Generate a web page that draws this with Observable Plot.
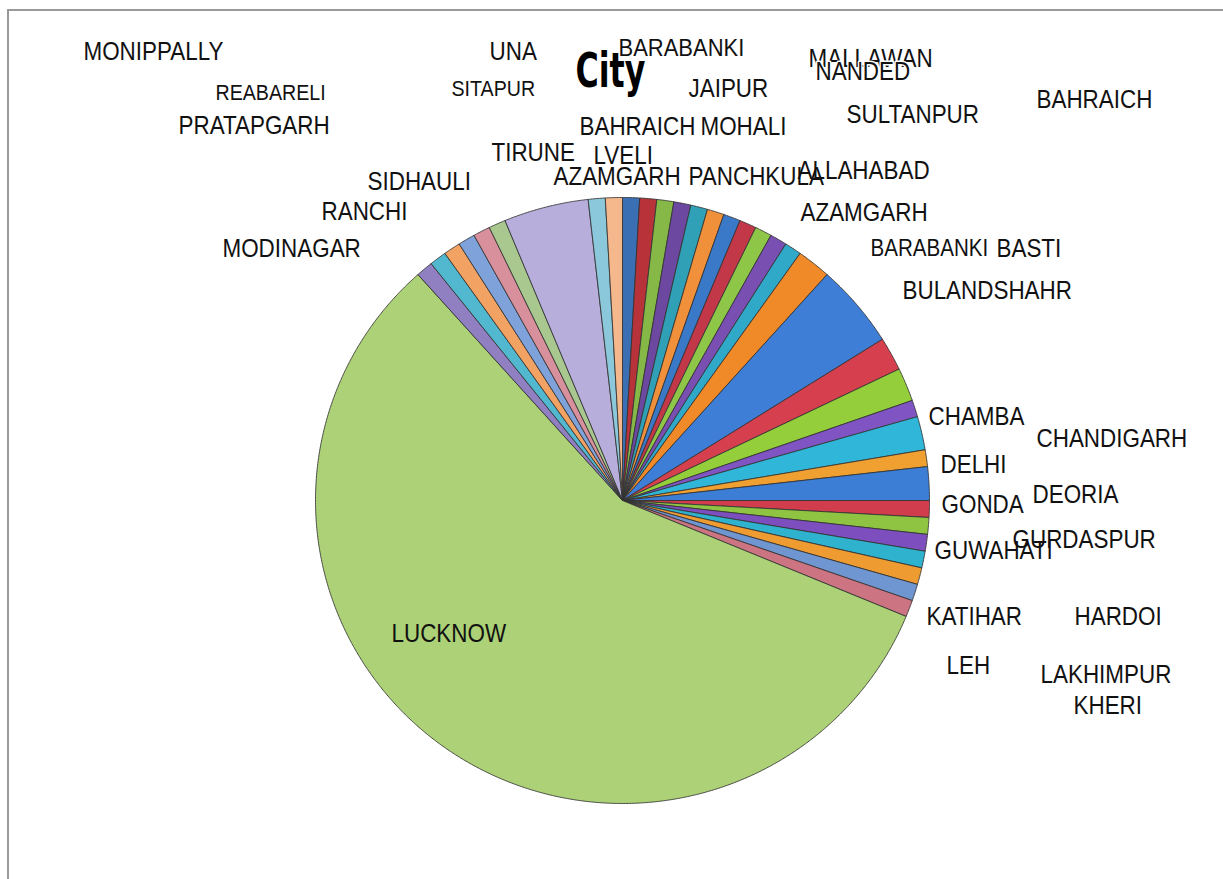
<!DOCTYPE html>
<html>
<head>
<meta charset="utf-8">
<script src="https://cdn.jsdelivr.net/npm/d3@7"></script>
<script src="https://cdn.jsdelivr.net/npm/@observablehq/plot@0.6"></script>
<style>
  html, body { margin: 0; padding: 0; background: #fff; }
  #wrap { position: relative; width: 1223px; height: 879px; overflow: hidden; }
  #frame { position: absolute; left: 7px; top: 9px; right: -10px; bottom: -10px;
           border-top: 2px solid #9a9a9a; border-left: 2px solid #9a9a9a; }
  #chart { position: absolute; left: 0; top: 0; }
</style>
</head>
<body>
<div id="wrap"><div id="frame"></div><div id="chart"></div></div>
<script>
// ---- data (clockwise from 12 o'clock) ----
const cities = [
  "BARABANKI","JAIPUR","MALLAWAN","NANDED","SULTANPUR","BAHRAICH",
  "BAHRAICH","MOHALI","AZAMGARH","PANCHKULA","ALLAHABAD","AZAMGARH",
  "BARABANKI","BASTI","BULANDSHAHR","CHAMBA","CHANDIGARH","DELHI",
  "DEORIA","GONDA","GURDASPUR","GUWAHATI","HARDOI","KATIHAR",
  "LAKHIMPUR KHERI","LEH","LUCKNOW","MODINAGAR","MONIPPALLY","PRATAPGARH",
  "RANCHI","REABARELI","SIDHAULI","SITAPUR","TIRUNELVELI","UNA"
];
const counts = [
  1,1,1,1,1,1,
  1,1,1,1,1,2,
  5,2,2,1,2,1,
  2,1,1,1,1,1,
  1,1,64,1,1,1,
  1,1,1,5,1,1
];
const title = "City";

// ---- styles / layout (kept apart from the data) ----
const palette = [
  "#3A6FB3","#B8323A","#86B848","#6D48A0","#2FA0B5","#F0903A",
  "#3A78C8","#C23848","#8EC648","#7A4FB2","#30A8C8","#F08A28",
  "#3E7ED6","#D6404E","#94CE3A","#8154C4","#2FB6D8","#F0A030",
  "#3C7DD6","#D23D4E","#8FC442","#7D4EBE","#2EB2CE","#EE9C32",
  "#7096D2","#CC7482","#ACD176","#9080C2","#52B8D0","#F2A262",
  "#80A2DA","#D8909C","#A8C890","#B8AEDC","#8CC8DC","#F4B88C"
];
const W = 1223, H = 879;
const pieGeom = {cx: 622, cy: 500, rx: 307, ry: 303};
// label placement: city index, optional substring range, left x, middle y, font size
const labelLayout = [
  {i: 0,  x: 618,  y: 48,  s: 23.5},
  {i: 1,  x: 688,  y: 88,  s: 24},
  {i: 2,  x: 808,  y: 58,  s: 24},
  {i: 3,  x: 815,  y: 71,  s: 24, halo: true},
  {i: 4,  x: 846,  y: 114, s: 24},
  {i: 5,  x: 1036, y: 99,  s: 24},
  {i: 6,  x: 579,  y: 126, s: 24},
  {i: 7,  x: 700,  y: 126, s: 24},
  {i: 8,  x: 553,  y: 176, s: 24},
  {i: 9,  x: 688,  y: 176, s: 24},
  {i: 10, x: 797,  y: 170, s: 24},
  {i: 11, x: 800,  y: 212, s: 24},
  {i: 12, x: 870,  y: 248, s: 22},
  {i: 13, x: 996,  y: 248, s: 24},
  {i: 14, x: 902,  y: 290, s: 24},
  {i: 15, x: 928,  y: 416, s: 24},
  {i: 16, x: 1036, y: 438, s: 24},
  {i: 17, x: 940,  y: 464, s: 24},
  {i: 18, x: 1032, y: 494, s: 24},
  {i: 19, x: 941,  y: 504, s: 24},
  {i: 20, x: 1012, y: 539, s: 24},
  {i: 21, x: 934,  y: 550, s: 24},
  {i: 22, x: 1074, y: 616, s: 24},
  {i: 23, x: 926,  y: 616, s: 24},
  {i: 24, x: 1040, y: 674, s: 24, part: [0, 9]},
  {i: 24, x: 1073, y: 705, s: 24, part: [10]},
  {i: 25, x: 946,  y: 665, s: 24},
  {i: 26, x: 391,  y: 633, s: 24},
  {i: 27, x: 222,  y: 248, s: 24},
  {i: 28, x: 83,   y: 51,  s: 24},
  {i: 29, x: 178,  y: 125, s: 24},
  {i: 30, x: 321,  y: 211, s: 24},
  {i: 31, x: 215,  y: 92,  s: 21},
  {i: 32, x: 367,  y: 181, s: 24},
  {i: 33, x: 451,  y: 88,  s: 21},
  {i: 34, x: 491,  y: 152, s: 24, part: [0, 6]},
  {i: 34, x: 593,  y: 155, s: 24, part: [6]},
  {i: 35, x: 489,  y: 51,  s: 24}
];
const titleLayout = {x: 575, y: 71, s: 44};
const labelFont = "'Liberation Sans', Arial, sans-serif";

// ---- build slice outlines from the counts ----
const total = d3.sum(counts);
const slicePts = [];
let acc = 0;
counts.forEach((v, i) => {
  const a0 = acc / total * 2 * Math.PI;
  acc += v;
  const a1 = acc / total * 2 * Math.PI;
  const n = Math.max(4, Math.ceil((a1 - a0) / 0.005));
  slicePts.push({i, x: pieGeom.cx, y: pieGeom.cy});
  for (let k = 0; k <= n; k++) {
    const a = a0 + (a1 - a0) * k / n;
    slicePts.push({i, x: pieGeom.cx + pieGeom.rx * Math.sin(a), y: pieGeom.cy - pieGeom.ry * Math.cos(a)});
  }
  slicePts.push({i, x: pieGeom.cx, y: pieGeom.cy});
});

const labels = labelLayout.map(d => {
  const name = cities[d.i];
  const text = d.part ? name.slice(d.part[0], d.part[1]) : name;
  return {...d, text};
});

const plot = Plot.plot({
  width: W, height: H,
  margin: 0,
  x: {domain: [0, W], range: [0, W], axis: null},
  y: {domain: [0, H], range: [0, H], axis: null},
  color: {type: "identity"},
  style: {background: "transparent", overflow: "visible"},
  marks: [
    Plot.line(slicePts, {x: "x", y: "y", z: "i", fill: d => palette[d.i],
      stroke: "#333", strokeWidth: 1, strokeOpacity: 0.85, curve: "linear"}),
    Plot.text(labels.filter(d => !d.halo), {x: "x", y: "y", text: "text", fontSize: "s",
      textAnchor: "start", lineAnchor: "middle", fill: "#111", fontFamily: labelFont}),
    Plot.text(labels.filter(d => d.halo), {x: "x", y: "y", text: "text", fontSize: "s",
      textAnchor: "start", lineAnchor: "middle", fill: "#111", stroke: "white", strokeWidth: 3,
      fontFamily: labelFont}),
    Plot.text([titleLayout], {x: "x", y: "y", text: () => title, fontSize: "s",
      textAnchor: "start", lineAnchor: "middle", fill: "#000", fontWeight: "bold",
      fontFamily: "'Liberation Sans Narrow', 'DejaVu Sans Condensed', sans-serif"})
  ]
});

const svg = d3.select(plot);
svg.selectAll("text").each(function () {
  const t = this.getAttribute("transform") || "";
  if (this.textContent === title) this.setAttribute("transform", t + " scale(0.8,1.1)");
  else this.setAttribute("transform", t + " scale(0.935,1.05)");
});

document.getElementById("chart").appendChild(plot);
</script>
</body>
</html>
